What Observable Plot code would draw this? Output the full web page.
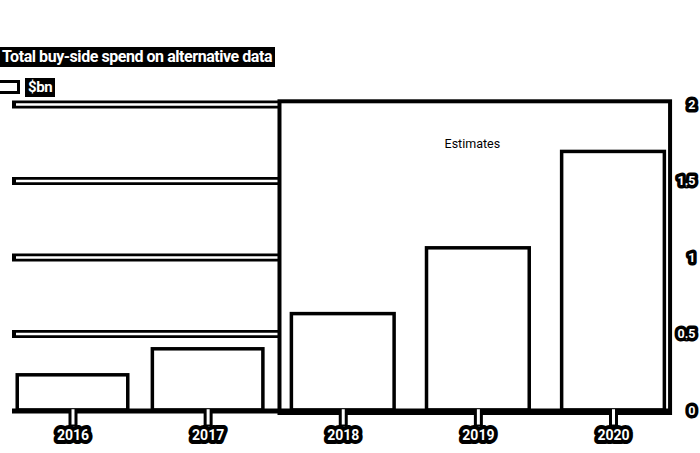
<!DOCTYPE html>
<html>
<head>
<meta charset="utf-8">
<script src="https://cdn.jsdelivr.net/npm/d3@7"></script>
<script src="https://cdn.jsdelivr.net/npm/@observablehq/plot@0.6"></script>
<style>
  html, body { margin: 0; padding: 0; background: #fff; }
  #wrap { position: relative; width: 700px; height: 453px; overflow: hidden; font-family: Roboto, "Noto Sans", sans-serif; }
  #head { position: relative; height: 98px; }
  .box { position: absolute; background: #000; color: #fff; font-weight: 700; white-space: nowrap; }
  #title { left: 0; top: 47px; font-size: 16px; line-height: 20px; padding: 0 3px 0 2px; letter-spacing: -0.45px; }
  #unit { left: 25px; top: 78px; font-size: 15px; line-height: 19px; padding: 0 3px; letter-spacing: -0.4px; }
  #swatch { position: absolute; left: -3px; top: 80px; width: 17px; height: 8px; border: 3px solid #000; background: #fff; }
  svg { overflow: visible; display: block; }
</style>
</head>
<body>
<div id="wrap">
  <div id="head">
    <div id="title" class="box">Total buy-side spend on alternative data</div>
    <div id="swatch"></div>
    <div id="unit" class="box">$bn</div>
  </div>
  <div id="chart"></div>
</div>
<script>
// ---- data ----
const years = [2016, 2017, 2018, 2019, 2020];
const spend = [0.23, 0.40, 0.63, 1.06, 1.69];   // $bn
const yTicks = [0, 0.5, 1, 1.5, 2];
const yTickLabels = ["0", "0.5", "1", "1.5", "2"];
const estimatesFrom = 2018;
const estimatesLabel = "Estimates";
const estimatesLabelValue = 1.74;

const data = years.map((year, i) => ({year, value: spend[i], estimate: year >= estimatesFrom}));
const shade = [{x1: estimatesFrom - 0.5, x2: years[years.length - 1] + 0.5, y1: 0, y2: yTicks[yTicks.length - 1]}];
const yLab = yTicks.map((v, i) => ({v, label: yTickLabels[i]}));
const grid = yTicks.filter(v => v > 0);

const barOpts = {x1: d => d.year - 0.5, x2: d => d.year + 0.5, y: "value", fill: "white", stroke: "black", strokeWidth: 3.5};

const chart = Plot.plot({
  width: 700,
  height: 355,
  marginTop: 6,
  marginBottom: 43,
  marginLeft: 12,
  marginRight: 29,
  style: {background: "transparent", fontFamily: "Roboto, 'Noto Sans', sans-serif"},
  x: {type: "linear", domain: [2016, 2020], range: [72.5, 613], axis: null},
  y: {domain: [0, 2], axis: null},
  marks: [
    // gridlines (outlined)
    Plot.ruleY(grid, {stroke: "black", strokeWidth: 8}),
    Plot.ruleY(grid, {stroke: "white", strokeWidth: 2.5, insetLeft: 4}),
    // estimates shading
    Plot.rect(shade, {x1: "x1", x2: "x2", y1: "y1", y2: "y2", fill: "white", stroke: "black", strokeWidth: 4,
      insetLeft: 4.3, insetRight: 10.5, insetTop: -2.7, insetBottom: -3}),
    // bars
    Plot.rectY(data.filter(d => !d.estimate), {...barOpts, insetLeft: 12.3, insetRight: 12.3}),
    Plot.rectY(data.filter(d => d.estimate), {...barOpts, insetLeft: 16.2, insetRight: 16.2}),
    // baseline
    Plot.ruleY([0], {stroke: "black", strokeWidth: 5, dy: 0.5}),
    // x ticks
    Plot.ruleX(years, {x: d => d, y1: 0, y2: -0.108, stroke: "black", strokeWidth: 9}),
    Plot.ruleX(years, {x: d => d, y1: 0.005, y2: -0.095, stroke: "white", strokeWidth: 3}),
    // x labels
    Plot.text(years, {x: d => d, frameAnchor: "bottom", dy: 25, text: d => String(d), fill: "white", stroke: "black",
      strokeWidth: 8, strokeLinejoin: "round", fontSize: 14, fontWeight: 700, letterSpacing: -0.4, lineAnchor: "middle"}),
    // y labels (right)
    Plot.text(yLab, {y: "v", frameAnchor: "right", dx: 24, textAnchor: "end", text: "label", fill: "white", stroke: "black",
      strokeWidth: 7, strokeLinejoin: "round", fontSize: 12.5, fontWeight: 700, letterSpacing: -0.4, lineAnchor: "middle"}),
    // estimates label
    Plot.text([estimatesLabel], {x: () => 2019, y: () => estimatesLabelValue, dx: -6, text: d => d, fill: "black",
      fontSize: 12.5, lineAnchor: "middle"})
  ]
});
document.getElementById("chart").appendChild(chart);
</script>
</body>
</html>
